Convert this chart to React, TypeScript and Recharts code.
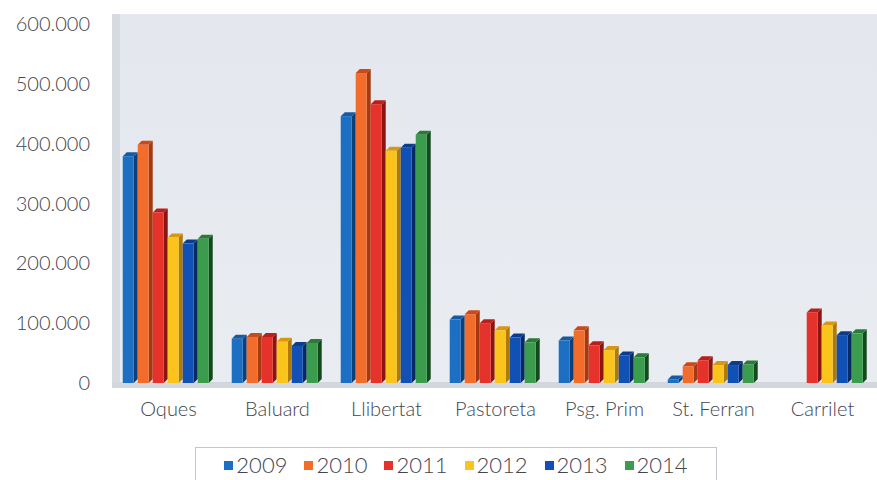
import { BarChart, Bar, XAxis, YAxis } from "recharts"

const categories = ["Oques", "Baluard", "Llibertat", "Pastoreta", "Psg. Prim", "St. Ferran", "Carrilet"]
const years = ["2009", "2010", "2011", "2012", "2013", "2014"]

const y2009 = [379000, 74000, 446000, 106000, 71000, 6000, null]
const y2010 = [398000, 77000, 518000, 115000, 88000, 28000, null]
const y2011 = [285000, 77000, 466000, 100000, 63000, 38000, 118000]
const y2012 = [243000, 69000, 388000, 88000, 55000, 30000, 96000]
const y2013 = [233000, 62000, 393000, 76000, 46000, 30000, 80000]
const y2014 = [241000, 67000, 415000, 68000, 43000, 31000, 83000]

const yTicks = [0, 100000, 200000, 300000, 400000, 500000, 600000]

const series = [y2009, y2010, y2011, y2012, y2013, y2014]

const colors: Record<string, { face: string; top: string; side: string }> = {
  "2009": { face: "#1d6fc4", top: "#155aa3", side: "#0d3f78" },
  "2010": { face: "#f26c2c", top: "#c9491b", side: "#a33a12" },
  "2011": { face: "#e5322a", top: "#b8201b", side: "#8c1512" },
  "2012": { face: "#fbc41c", top: "#d9960f", side: "#b07a08" },
  "2013": { face: "#1150b4", top: "#0b3d8c", side: "#072a63" },
  "2014": { face: "#3b9c4d", top: "#2a7a38", side: "#124a1c" },
}

const data = categories.map((name, i) => {
  const row: Record<string, any> = { name }
  years.forEach((yr, k) => {
    row[yr] = series[k][i]
  })
  return row
})

const fontFamily = "Lato, 'Open Sans', sans-serif"
const textColor = "#41464f"
const DEPTH = 4

// front face plus a thin top and side to fake the 3D look
const Bar3D = (props: any) => {
  const { x, y, width, height, yearKey } = props
  if (!height || height <= 0 || x == null) return null
  const c = colors[yearKey]
  const w = width - DEPTH
  return (
    <g>
      <polygon
        points={`${x + w},${y} ${x + w + DEPTH},${y - DEPTH} ${x + w + DEPTH},${y + height - DEPTH} ${x + w},${y + height}`}
        fill={c.side}
      />
      <polygon
        points={`${x},${y} ${x + DEPTH},${y - DEPTH} ${x + w + DEPTH},${y - DEPTH} ${x + w},${y}`}
        fill={c.top}
      />
      <rect x={x} y={y} width={w} height={height} fill={c.face} />
    </g>
  )
}

const ChartLegend = () => (
  <div
    style={{
      position: "absolute",
      left: 195,
      top: 447,
      width: 522,
      height: 40,
      border: "1px solid #c3c6cc",
      boxSizing: "border-box",
      display: "flex",
      alignItems: "flex-start",
      justifyContent: "center",
      paddingTop: 4,
      gap: 17,
      background: "#fff",
    }}
  >
    {years.map((yr) => (
      <div key={yr} style={{ display: "flex", alignItems: "center", gap: 3 }}>
        <div style={{ width: 9, height: 9, background: colors[yr].face }} />
        <span style={{ fontFamily, fontSize: 22, fontWeight: 300, color: textColor, lineHeight: "26px" }}>{yr}</span>
      </div>
    ))}
  </div>
)

export default function App() {
  return (
    <div style={{ position: "absolute", left: 0, top: 0, width: 877, height: 480, background: "#fff", overflow: "hidden" }}>
      {/* backdrop wall and floor */}
      <div style={{ position: "absolute", left: 112, top: 14, width: 765, height: 374, background: "linear-gradient(180deg, #e4e8ee 0%, #e9ecf1 100%)" }} />
      <div style={{ position: "absolute", left: 112, top: 14, width: 8, height: 374, background: "#d6dae1" }} />
      <div style={{ position: "absolute", left: 112, top: 382, width: 765, height: 6, background: "#d3d6dc" }} />
      <div style={{ position: "absolute", left: 0, top: 0 }}>
        <BarChart
          width={877}
          height={440}
          data={data}
          margin={{ top: 24, right: 0, left: 0, bottom: 0 }}
          barCategoryGap="8%"
          barGap={0}
        >
          <XAxis
            dataKey="name"
            axisLine={false}
            tickLine={false}
            height={57}
            tick={{ fill: textColor, fontSize: 20, fontWeight: 300, fontFamily, dy: 11 }}
            interval={0}
          />
          <YAxis
            domain={[0, 600000]}
            ticks={yTicks}
            width={114}
            axisLine={false}
            tickLine={false}
            tickSize={0}
            tickMargin={24}
            tick={{ fill: textColor, fontSize: 20, fontWeight: 300, fontFamily }}
            tickFormatter={(v: number) => v.toLocaleString("de-DE")}
          />
          {years.map((yr) => (
            <Bar
              key={yr}
              dataKey={yr}
              fill={colors[yr].face}
              isAnimationActive={false}
              shape={(p: any) => <Bar3D {...p} yearKey={yr} />}
            />
          ))}
        </BarChart>
      </div>
      <ChartLegend />
    </div>
  )
}
